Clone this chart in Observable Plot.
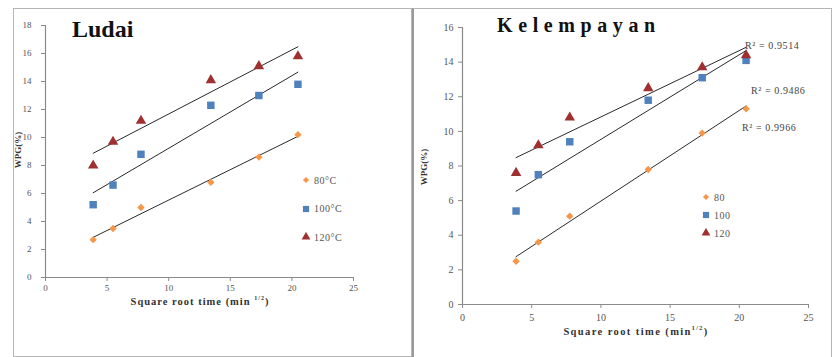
<!DOCTYPE html>
<html>
<head>
<meta charset="utf-8">
<script src="https://cdn.jsdelivr.net/npm/d3@7"></script>
<script src="https://cdn.jsdelivr.net/npm/@observablehq/plot@0.6"></script>
<style>
  body { margin: 0; background: #fff; }
  #wrap { position: relative; width: 832px; height: 357px; background: #fff; overflow: hidden; font-family: "Liberation Serif", "Times New Roman", Times, serif; }
  .abs { position: absolute; }
  .frame { position: absolute; box-sizing: border-box; }
  .title { position: absolute; font-weight: bold; color: #111; white-space: nowrap; }
  .xlab { position: absolute; font-weight: bold; font-size: 10.5px; color: #333; letter-spacing: 1px; white-space: nowrap; transform: translateX(-50%); }
  .xlab sup { font-size: 6px; vertical-align: 5px; line-height: 0; }
  .ylab { position: absolute; font-size: 9px; font-weight: bold; color: #333; white-space: nowrap; transform: translate(-50%,-50%) rotate(-90deg); }
  .leg { position: absolute; font-size: 10px; color: #555; letter-spacing: 0.5px; white-space: nowrap; }
  .leg div { display: flex; align-items: center; height: 12px; }
  .leg svg { margin-right: 3px; }
  .r2 { position: absolute; font-size: 10px; color: #444; letter-spacing: 0.6px; white-space: nowrap; transform: translateY(-50%); }
</style>
</head>
<body>
<div id="wrap"></div>
<script>
// ---- data ----
const sqrtTime = [3.87, 5.48, 7.75, 13.42, 17.32, 20.49];
const ludai80  = [2.7, 3.5, 5.0, 6.8, 8.6, 10.2];
const ludai100 = [5.2, 6.6, 8.8, 12.3, 13.0, 13.8];
const ludai120 = [8.0, 9.7, 11.2, 14.1, 15.1, 15.8];
const kel80  = [2.5, 3.6, 5.1, 7.8, 9.9, 11.3];
const kel100 = [5.4, 7.5, 9.4, 11.8, 13.1, 14.1];
const kel120 = [7.6, 9.2, 10.8, 12.5, 13.7, 14.4];
const ludaiSeries = ["80°C", "100°C", "120°C"];
const kelSeries = ["80", "100", "120"];
const kelR2 = ["R² = 0.9514", "R² = 0.9486", "R² = 0.9966"];
const xTicks = [0, 5, 10, 15, 20, 25];
const ludaiYTicks = [0, 2, 4, 6, 8, 10, 12, 14, 16, 18];
const kelYTicks = [0, 2, 4, 6, 8, 10, 12, 14, 16];

const colors = ["#f79646", "#4f81bd", "#a0302f"];
const symbols = ["diamond2", "square", "triangle"];
const radii = [3.3, 4.2, 3.9];
const SERIF = "'Liberation Serif', 'Times New Roman', Times, serif";

function rows(seriesNames, arrays) {
  const out = [];
  seriesNames.forEach((s, i) => arrays[i].forEach((v, j) => out.push({series: s, x: sqrtTime[j], y: v})));
  return out;
}

function makePlot(o) {
  const data = rows(o.series, o.arrays);
  return Plot.plot({
    width: o.width, height: o.height,
    marginLeft: o.ml, marginRight: o.mr, marginTop: o.mt, marginBottom: o.mb,
    x: {domain: [0, 25]},
    y: {domain: [0, o.yMax]},
    style: {fontFamily: SERIF, fontSize: o.fs + "px", background: "transparent", overflow: "visible"},
    marks: [
      Plot.ruleY([0], {stroke: "#8a8a8a", strokeWidth: 1.2}),
      Plot.ruleX([0], {stroke: "#8a8a8a", strokeWidth: 1.2}),
      Plot.axisX({ticks: xTicks, tickSize: 4, tickPadding: o.xpad, stroke: "#8a8a8a", fill: "#555", label: null, fontFamily: SERIF}),
      Plot.axisY({ticks: o.yTicks, tickSize: 4, tickPadding: o.ypad, stroke: "#8a8a8a", fill: "#555", label: null, fontFamily: SERIF}),
      Plot.linearRegressionY(data, {x: "x", y: "y", z: "series", stroke: "#2a2a2a", strokeWidth: 1, ci: 0}),
      ...o.series.map((s, i) => Plot.dot(data.filter(d => d.series === s), {
        x: "x", y: "y", symbol: () => symbols[i], fill: colors[i], stroke: "none", r: radii[i]
      }))
    ],
    symbol: {type: "identity"}
  });
}

const wrap = document.getElementById("wrap");
function add(html) { const d = document.createElement("div"); d.innerHTML = html; const el = d.firstElementChild; wrap.appendChild(el); return el; }

// frames
add('<div class="frame" style="left:13px;top:8px;width:399px;height:349px;border:1px solid #b5b5b5;"></div>');
add('<div class="frame" style="left:412px;top:8px;width:420px;height:349px;border-top:1px solid #b5b5b5;border-left:2px solid #9a9a9a;border-right:1px solid #b5b5b5;"></div>');

// left plot
const p1 = makePlot({series: ludaiSeries, arrays: [ludai80, ludai100, ludai120], yMax: 18, yTicks: ludaiYTicks,
  width: 397, height: 347, ml: 32, mr: 57, mt: 17, mb: 78, fs: 9, xpad: 3, ypad: 10});
const h1 = add('<div class="abs" style="left:13px;top:8px;"></div>'); h1.appendChild(p1);

// right plot
const p2 = makePlot({series: kelSeries, arrays: [kel80, kel100, kel120], yMax: 16, yTicks: kelYTicks,
  width: 417, height: 347, ml: 49, mr: 22, mt: 19, mb: 51, fs: 10, xpad: 5, ypad: 5});
const h2 = add('<div class="abs" style="left:413px;top:8px;"></div>'); h2.appendChild(p2);

// titles
add('<div class="title" style="left:72px;top:16px;font-size:24px;">Ludai</div>');
add('<div class="title" style="left:497px;top:14px;font-size:20px;letter-spacing:5.6px;">Kelempayan</div>');

// axis labels
add('<div class="xlab" style="left:200px;top:296px;">Square root time (min <sup>1/2</sup>)</div>');
add('<div class="xlab" style="left:636px;top:326px;letter-spacing:1.4px;">Square root time (min<sup>1/2</sup>)</div>');
add('<div class="ylab" style="left:18px;top:150px;">WPG(%)</div>');
add('<div class="ylab" style="left:424px;top:167px;">WPG(%)</div>');

// legends
const d3sym = {diamond2: d3.symbolDiamond2, square: d3.symbolSquare, triangle: d3.symbolTriangle};
function legend(names, left, top, gap) {
  const items = names.map((n, i) => {
    const sym = d3.symbol(d3sym[symbols[i]], Math.PI * radii[i] * radii[i] * 0.7)();
    return `<div style="height:${gap}px"><svg width="10" height="10" viewBox="-5 -5 10 10"><path d="${sym}" fill="${colors[i]}"/></svg>${n}</div>`;
  }).join("");
  add(`<div class="leg" style="left:${left}px;top:${top}px;">${items}</div>`);
}
legend(ludaiSeries, 301, 166, 28.5);
legend(kelSeries, 701, 188, 18);

// R² labels
const r2pos = [[745, 45], [751, 90], [742, 127]];
kelR2.forEach((t, i) => add(`<div class="r2" style="left:${r2pos[i][0]}px;top:${r2pos[i][1]}px;">${t}</div>`));
</script>
</body>
</html>
